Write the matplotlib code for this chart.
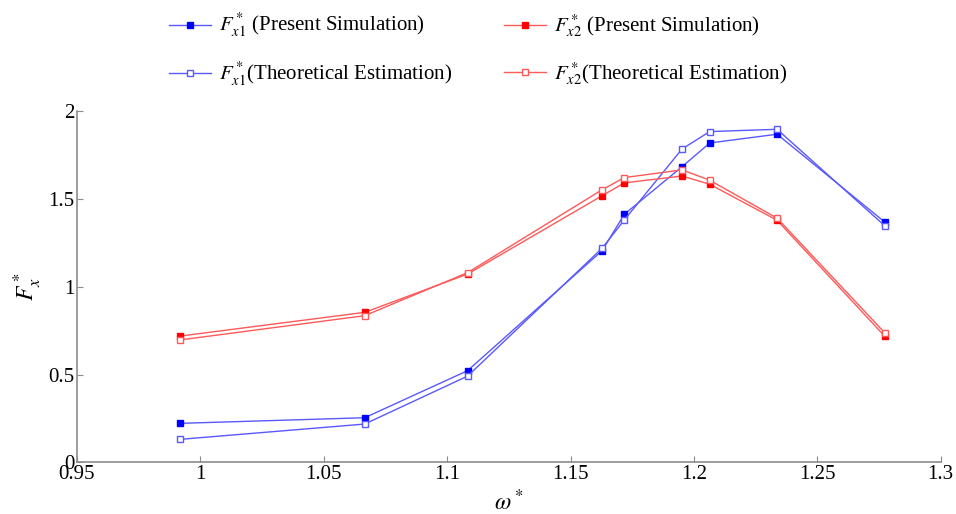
import numpy as np
import matplotlib
matplotlib.use("Agg")
import matplotlib.pyplot as plt

plt.rcParams["font.family"] = ["Liberation Serif", "DejaVu Serif"]
plt.rcParams["mathtext.fontset"] = "stix"

# Non-dimensional frequency
omega = [0.9919, 1.0666, 1.1083, 1.1628, 1.1718, 1.1952, 1.2064, 1.2337, 1.2773]

# Force coefficients
fx1_sim = [0.222, 0.254, 0.522, 1.205, 1.412, 1.683, 1.818, 1.868, 1.368]
fx1_theory = [0.131, 0.218, 0.491, 1.219, 1.380, 1.784, 1.883, 1.896, 1.347]
fx2_sim = [0.719, 0.854, 1.072, 1.518, 1.591, 1.630, 1.583, 1.378, 0.718]
fx2_theory = [0.697, 0.835, 1.080, 1.552, 1.621, 1.665, 1.606, 1.390, 0.738]

xticks = [0.95, 1, 1.05, 1.1, 1.15, 1.2, 1.25, 1.3]
xticklabels = ["0.95", "1", "1.05", "1.1", "1.15", "1.2", "1.25", "1.3"]
yticks = [0, 0.5, 1, 1.5, 2]
yticklabels = ["0", "0.5", "1", "1.5", "2"]

fig = plt.figure(figsize=(9.56, 5.14), dpi=100)
ax = fig.add_axes([0.0805, 0.1005, 0.9035, 0.6835])

blue_line = (0.35, 0.35, 1.0)
red_line = (1.0, 0.35, 0.35)

h1, = ax.plot(omega, fx1_sim, "-s", color=blue_line, lw=1.0, ms=5,
              mfc="blue", mec="blue",
              label=r"$F^*_{x1}$ (Present Simulation)")
h2, = ax.plot(omega, fx1_theory, "-s", color=blue_line, lw=1.0, ms=5,
              mfc="white", mec=blue_line,
              label=r"$F^*_{x1}$(Theoretical Estimation)")
h3, = ax.plot(omega, fx2_sim, "-s", color=red_line, lw=1.0, ms=5,
              mfc="red", mec="red",
              label=r"$F^*_{x2}$ (Present Simulation)")
h4, = ax.plot(omega, fx2_theory, "-s", color=red_line, lw=1.0, ms=5,
              mfc="white", mec=red_line,
              label=r"$F^*_{x2}$(Theoretical Estimation)")

ax.set_xlim(0.95, 1.3)
ax.set_ylim(0, 2)
ax.set_xticks(xticks)
ax.set_xticklabels(xticklabels)
ax.set_yticks(yticks)
ax.set_yticklabels(yticklabels)

for s in ["top", "right"]:
    ax.spines[s].set_visible(False)
for s in ["left", "bottom"]:
    ax.spines[s].set_color("#8c8c8c")
    ax.spines[s].set_linewidth(1.2)
ax.tick_params(direction="in", length=4, color="#8c8c8c", labelsize=15, pad=2)

ax.set_xlabel(r"$\omega^*$", fontsize=17, labelpad=4)
ax.set_ylabel(r"$F^*_x$", fontsize=17, labelpad=3)

fig.legend(handles=[h1, h2, h3, h4], ncol=2, loc="center",
           bbox_to_anchor=(0.5, 0.903), frameon=False, fontsize=15,
           handlelength=2.0, handletextpad=0.4, columnspacing=2.5,
           labelspacing=1.0)

plt.savefig("out.png", dpi=100)
